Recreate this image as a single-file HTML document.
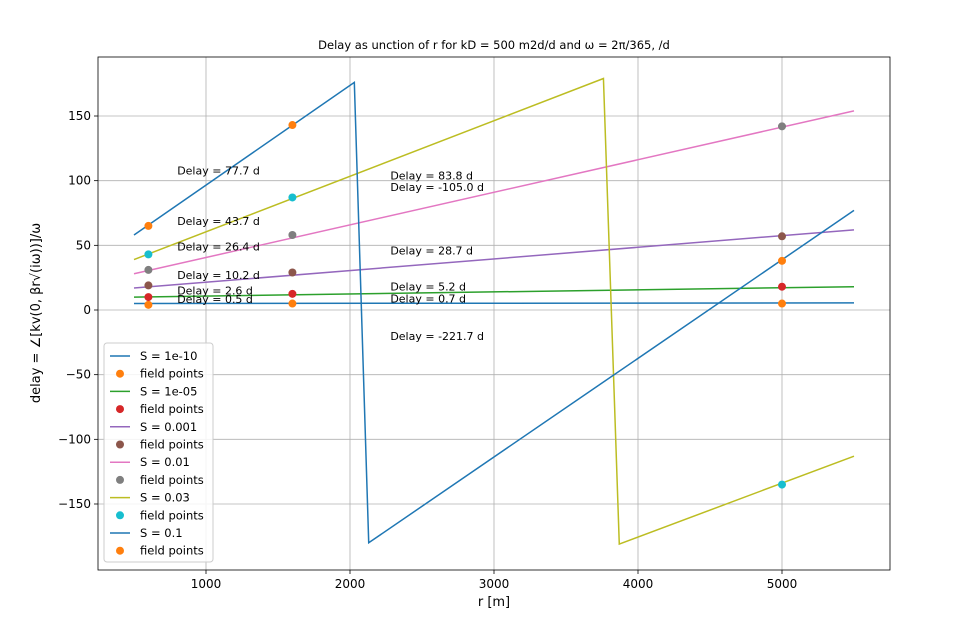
<!DOCTYPE html>
<html><head><meta charset="utf-8"><style>
body{margin:0;background:#fff;font-family:"Liberation Sans","DejaVu Sans",sans-serif}
svg text{font-family:"DejaVu Sans","Liberation Sans",sans-serif}
</style></head><body>
<svg id="chart" width="959" height="636" xmlns="http://www.w3.org/2000/svg"></svg>
<script>
// data
const xTicks=[1000,2000,3000,4000,5000];
const yTicks=[-150,-100,-50,0,50,100,150];
const seriesNames=["S = 1e-10","S = 1e-05","S = 0.001","S = 0.01","S = 0.03","S = 0.1"];
const lineR=[[500,5500],[500,5500],[500,5500],[500,5500],[500,3760,3870,5500],[500,2030,2130,5500]];
const lineD=[[5,5.5],[10,18],[17,62],[28,154],[39,179,-181,-113],[58,176,-180,77]];
const pointR=[600,1600,5000];
const pointD=[[4,5,5],[10,12.5,18],[19,29,57],[31,58,142],[43,87,-135],[65,143,38]];
const labelR=[800,800,800,800,800,800,2280,2280,2280,2280,2280,2280];
const labelY=[108,69,49,27,15,8.5,104,95,46,18,9,-20];
const labelText=["Delay = 77.7 d","Delay = 43.7 d","Delay = 26.4 d","Delay = 10.2 d","Delay = 2.6 d","Delay = 0.5 d","Delay = 83.8 d","Delay = -105.0 d","Delay = 28.7 d","Delay = 5.2 d","Delay = 0.7 d","Delay = -221.7 d"];
const lineColors=["#1f77b4","#2ca02c","#9467bd","#e377c2","#bcbd22","#1f77b4"];
const pointColors=["#ff7f0e","#d62728","#8c564b","#7f7f7f","#17becf","#ff7f0e"];

const NS="http://www.w3.org/2000/svg";
const svg=document.getElementById('chart');
const L=98,R=890,T=57,B=570;
const X=v=>62+v*0.144;
const Y=v=>310-v*1.2933;
function mk(tag,attrs,parent){const e=document.createElementNS(NS,tag);for(const k in attrs)e.setAttribute(k,attrs[k]);(parent||svg).appendChild(e);return e;}

xTicks.forEach(t=>{
  const g=mk('line',{x1:X(t),x2:X(t),y1:T,y2:B,stroke:'#b0b0b0','stroke-width':0.8});
  
  
  mk('line',{x1:X(t),x2:X(t),y1:B,y2:B+4,stroke:'#000','stroke-width':0.8});
  const tx=mk('text',{x:X(t),y:B+18,'text-anchor':'middle','font-size':12});
  tx.textContent=t;
  
  
});
yTicks.forEach(t=>{
  const g=mk('line',{x1:L,x2:R,y1:Y(t),y2:Y(t),stroke:'#b0b0b0','stroke-width':0.8});
  
  
  mk('line',{x1:L-4,x2:L,y1:Y(t),y2:Y(t),stroke:'#000','stroke-width':0.8});
  const tx=mk('text',{x:L-7,y:Y(t)+4,'text-anchor':'end','font-size':12});
  tx.textContent=t<0?'\u2212'+(-t):t;
  
  
});

lineR.forEach((rs,i)=>{
  const pts=rs.map((r,j)=>X(r)+','+Y(lineD[i][j])).join(' ');
  const p=mk('polyline',{points:pts,fill:'none',stroke:lineColors[i],'stroke-width':1.5});
  
  
});
pointD.forEach((ds,i)=>{
  ds.forEach((d,j)=>{
    const c=mk('circle',{cx:X(pointR[j]),cy:Y(d),r:4,fill:pointColors[i]});
    
    
  });
});
labelText.forEach((s,i)=>{
  const t=mk('text',{x:X(labelR[i]),y:Y(labelY[i])+4,'font-size':11});
  t.textContent=s;
  
  
});

const fr=mk('rect',{x:L,y:T,width:R-L,height:B-T,fill:'none',stroke:'#000','stroke-width':0.8});



const lg=mk('g',{});


mk('rect',{x:104,y:343,width:109,height:219,rx:3,fill:'#fff','fill-opacity':0.85,stroke:'#ccc'},lg);
for(let i=0;i<6;i++){
  const y1=356+i*35.4, y2=y1+17.7;
  mk('line',{x1:110,x2:130,y1:y1,y2:y1,stroke:lineColors[i],'stroke-width':1.5},lg);
  const a=mk('text',{x:140,y:y1+4,'font-size':11.5},lg);a.textContent=seriesNames[i];
  
  
  mk('circle',{cx:120,cy:y2,r:4,fill:pointColors[i]},lg);
  const b=mk('text',{x:140,y:y2+4,'font-size':11.5},lg);b.textContent='field points';
  
  
}

const ti=mk('text',{x:494,y:49,'text-anchor':'middle','font-size':11.5});
ti.textContent='Delay as unction of r for kD =  500 m2d/d and \u03c9 = 2\u03c0/365, /d';


const xl=mk('text',{x:494,y:606,'text-anchor':'middle','font-size':13});
xl.textContent='r [m]';


const yl=mk('text',{x:0,y:0,'text-anchor':'middle','font-size':13,transform:'translate(40,313) rotate(-90)'});
yl.textContent='delay = \u2220[kv(0, \u03b2r\u221a(i\u03c9))]/\u03c9';


</script>
</body></html>
